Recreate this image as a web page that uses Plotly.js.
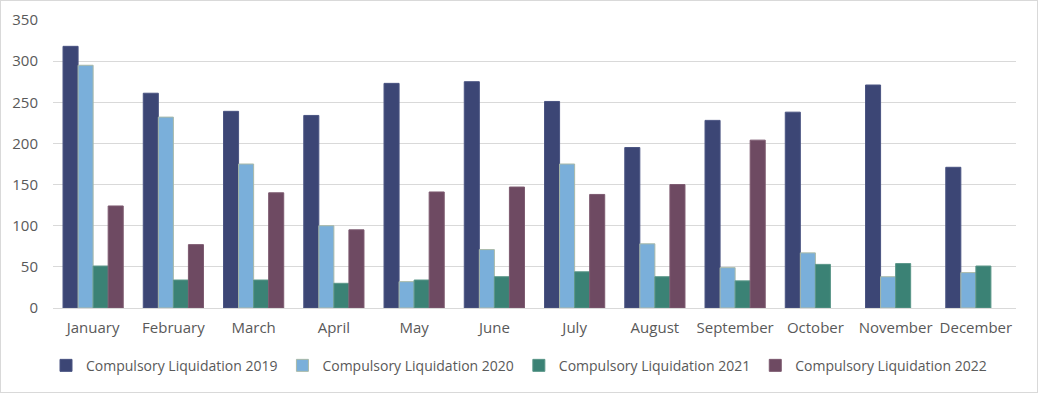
<!DOCTYPE html>
<html><head><meta charset="utf-8">
<script src="https://cdn.plot.ly/plotly-3.0.1.min.js"></script>
<style>html,body{margin:0;padding:0;background:#fff;}#frame{position:absolute;left:0;top:0;width:1036px;height:391px;border:1px solid #d9d9d9;}#chart{position:absolute;left:0;top:0;width:1038px;height:393px;}</style>
</head><body><div id="chart"></div><div id="frame"></div>
<script>
const months = ["January","February","March","April","May","June","July","August","September","October","November","December"];
const seriesNames = ["Compulsory Liquidation 2019","Compulsory Liquidation 2020","Compulsory Liquidation 2021","Compulsory Liquidation 2022"];
const v2019 = [318,261,239,234,273,275,251,195,228,238,271,171];
const v2020 = [295,232,175,100,32,71,175,78,49,67,38,43];
const v2021 = [51,34,34,30,34,38,44,38,33,53,54,51];
const v2022 = [124,77,140,95,141,147,138,150,204,null,null,null];
const yTicks = [0,50,100,150,200,250,300,350];
const colors = ["#3c4675","#7aafda","#3b8275","#6e4a62"];
const lines = ["#4a5482","#a9b9a8","#5a9688","#7d5a70"];
const vals = [v2019,v2020,v2021,v2022];
const data = vals.map((v,i)=>({type:'bar',x:months,y:v,name:seriesNames[i],
  marker:{color:colors[i],line:{color:lines[i],width:1}},hoverinfo:'y'}));
const font = {family:'"Open Sans", "Liberation Sans", sans-serif', size:14, color:'#595959'};
Plotly.newPlot('chart',data,{
  width:1038,height:393,
  margin:{l:53,r:22,t:20,b:85},
  paper_bgcolor:'#fff',plot_bgcolor:'#fff',
  font:font,
  barmode:'group',bargap:0.25,bargroupgap:0,
  xaxis:{type:'category',automargin:false,showgrid:false,showline:true,linecolor:'#d9d9d9',linewidth:1,ticks:'',tickfont:{size:15,color:'#595959'},ticklabelstandoff:6},
  yaxis:{range:[0,350],automargin:false,tickvals:yTicks,showgrid:true,gridcolor:'#d9d9d9',gridwidth:1,zeroline:false,ticks:'',tickfont:{size:15,color:'#595959'},ticklabelstandoff:14},
  legend:{orientation:'h',x:0.5,xref:'container',xanchor:'center',y:0.11,yref:'container',yanchor:'top',font:{size:14,color:'#595959'},traceorder:'normal',itemwidth:30},
  showlegend:true
},{displayModeBar:false,staticPlot:true});
</script></body></html>
